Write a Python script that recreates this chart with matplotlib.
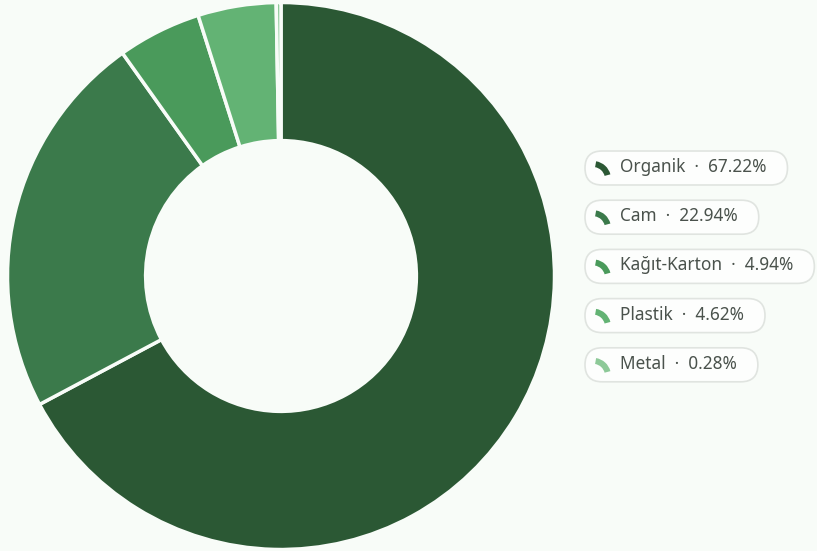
import matplotlib.pyplot as plt
from matplotlib.patches import FancyBboxPatch, Wedge

plt.rcParams['font.family'] = ['Noto Sans', 'DejaVu Sans']

# Data
categories = ['Organik', 'Cam', 'Kağıt-Karton', 'Plastik', 'Metal']
values = [67.22, 22.94, 4.94, 4.62, 0.28]
colors = ['#2b5834', '#3b7a4b', '#4a9a5b', '#63b374', '#8dc998']

bg = '#f8fcf8'
W, H = 817, 551

fig = plt.figure(figsize=(W / 100, H / 100), dpi=100, facecolor=bg)

# Donut
cx, cy, r = 281, 276, 273.5
ax = fig.add_axes([(cx - r) / W, (H - cy - r) / H, 2 * r / W, 2 * r / H])
ax.set_facecolor(bg)
ax.pie(values, colors=colors, startangle=90, counterclock=False, radius=1,
       wedgeprops=dict(width=0.505, edgecolor=bg, linewidth=2.5, joinstyle='round'))
ax.set_xlim(-1, 1)
ax.set_ylim(-1, 1)
ax.set_aspect('equal')
ax.axis('off')

# Legend pills (pixel coords, y measured from top)
lax = fig.add_axes([0, 0, 1, 1])
lax.set_xlim(0, W)
lax.set_ylim(0, H)
lax.axis('off')

renderer = fig.canvas.get_renderer()
y0, step = 168, 49.2
for i, (name, val, col) in enumerate(zip(categories, values, colors)):
    y = H - (y0 + i * step)
    t = lax.text(620, y + 1, f'{name}  ·  {val:.2f}%', fontsize=12.4, color='#4a524c',
                 va='center', ha='left')
    bb = t.get_window_extent(renderer)
    x_end = bb.x1 + 21
    pill = FancyBboxPatch((585, y - 17), x_end - 585, 34,
                          boxstyle='round,pad=0,rounding_size=17',
                          facecolor='#fdfefd', edgecolor='#e0e4e0', linewidth=1.2, zorder=1)
    lax.add_patch(pill)
    # small ring-segment icon
    ic = Wedge((593, y - 11), 18, 15, 80, width=6, facecolor=col, edgecolor='none', zorder=2)
    lax.add_patch(ic)

fig.savefig('out.png', dpi=100, facecolor=bg)
